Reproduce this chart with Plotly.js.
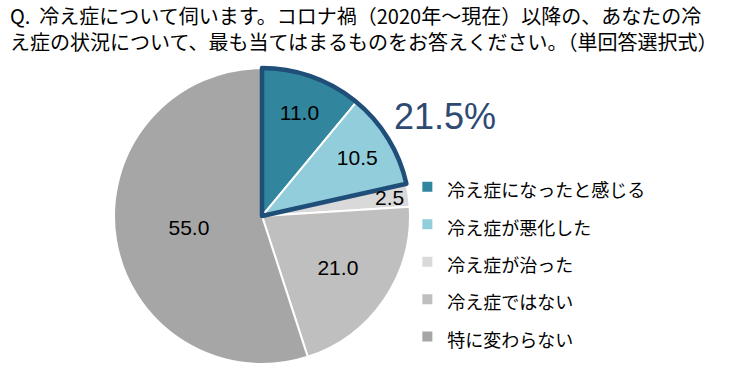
<!DOCTYPE html>
<html>
<head>
<meta charset="utf-8">
<script src="https://cdn.plot.ly/plotly-3.0.1.min.js"></script>
<style>html,body{margin:0;padding:0;background:#fff;}#chart{width:742px;height:376px;}</style>
</head>
<body>
<div id="chart"></div>
<script>
var categories = ['冷え症になったと感じる', '冷え症が悪化した', '冷え症が治った', '冷え症ではない', '特に変わらない'];
var values = [11.0, 10.5, 2.5, 21.0, 55.0];
var colors = ['#31859C', '#92CDDC', '#D9D9D9', '#BFBFBF', '#A6A6A6'];
var titleLines = ['Q.&nbsp; 冷え症について伺います。コロナ禍（2020年～現在）以降の、あなたの冷', 'え症の状況について、最も当てはまるものをお答えください。（単回答選択式）'];
var textPositions = ['inside', 'inside', 'none', 'inside', 'inside'];

var highlighted = values[0] + values[1];
var total = values.reduce(function(a, b){ return a + b; }, 0);
var rest = total - highlighted;

var dom = {x: [0.1536, 0.5526], y: [0.0319, 0.819]};
var cx = (dom.x[0] + dom.x[1]) / 2, cy = (dom.y[0] + dom.y[1]) / 2;
var rx = (dom.x[1] - dom.x[0]) / 2, ry = (dom.y[1] - dom.y[0]) / 2;

var pie = {
  type: 'pie',
  labels: categories.map(function(c){ return '<span style="font-size:18px">' + c + '</span>'; }),
  values: values,
  sort: false,
  direction: 'clockwise',
  rotation: 0,
  domain: dom,
  marker: {colors: colors, line: {color: '#FFFFFF', width: 2}},
  texttemplate: values.map(function(v){ return v.toFixed(1); }),
  textinfo: 'text',
  textposition: textPositions,
  insidetextorientation: 'horizontal',
  insidetextfont: {family: 'Liberation Sans, Arial, sans-serif', size: 21, color: '#000000'},
  hoverinfo: 'none',
  showlegend: true
};

var outline = {
  type: 'pie',
  labels: ['highlight', 'other'],
  values: [highlighted, rest],
  sort: false,
  direction: 'clockwise',
  rotation: 0,
  domain: dom,
  marker: {colors: ['rgba(0,0,0,0)', 'rgba(0,0,0,0)'], line: {color: ['#1F4E79', 'rgba(0,0,0,0)'], width: [4.5, 0]}},
  textinfo: 'none',
  hoverinfo: 'none',
  showlegend: false
};

var annotations = [];
annotations.push({
  text: titleLines.join('<br>'), xref: 'paper', yref: 'paper',
  x: 0.0108, y: 0.9255, xanchor: 'left', yanchor: 'middle', align: 'left',
  showarrow: false,
  font: {family: 'Noto Sans CJK JP, sans-serif', size: 20, color: '#000000'}
});
annotations.push({
  text: highlighted.toFixed(1) + '%',
  xref: 'paper', yref: 'paper',
  x: 0.6, y: 0.69, xanchor: 'center', yanchor: 'middle',
  showarrow: false,
  font: {family: 'Liberation Sans, Arial, sans-serif', size: 36, color: '#2E4A72'}
});
// labels for slices whose text Plotly would shrink: placed from the slice's mid-angle
var cum = 0;
values.forEach(function(v, i){
  var mid = (cum + v / 2) / total * 2 * Math.PI;
  cum += v;
  if (textPositions[i] !== 'none') return;
  annotations.push({
    text: v.toFixed(1), xref: 'paper', yref: 'paper',
    x: cx + 0.87 * rx * Math.sin(mid), y: cy + 0.87 * ry * Math.cos(mid),
    xanchor: 'center', yanchor: 'middle', showarrow: false,
    font: {family: 'Liberation Sans, Arial, sans-serif', size: 21, color: '#000000'}
  });
});

var layout = {
  width: 742, height: 376,
  margin: {l: 0, r: 0, t: 0, b: 0},
  paper_bgcolor: '#FFFFFF',
  font: {family: 'Noto Sans CJK JP, sans-serif', color: '#000000'},
  legend: {
    x: 0.549, xanchor: 'left',
    y: 0.303, yanchor: 'middle',
    font: {family: 'Noto Sans CJK JP, sans-serif', size: 26.5, color: '#000000'},
    bgcolor: 'rgba(0,0,0,0)',
    itemclick: false, itemdoubleclick: false
  },
  annotations: annotations
};

Plotly.newPlot('chart', [pie, outline], layout, {staticPlot: true, displayModeBar: false});
</script>
</body>
</html>
